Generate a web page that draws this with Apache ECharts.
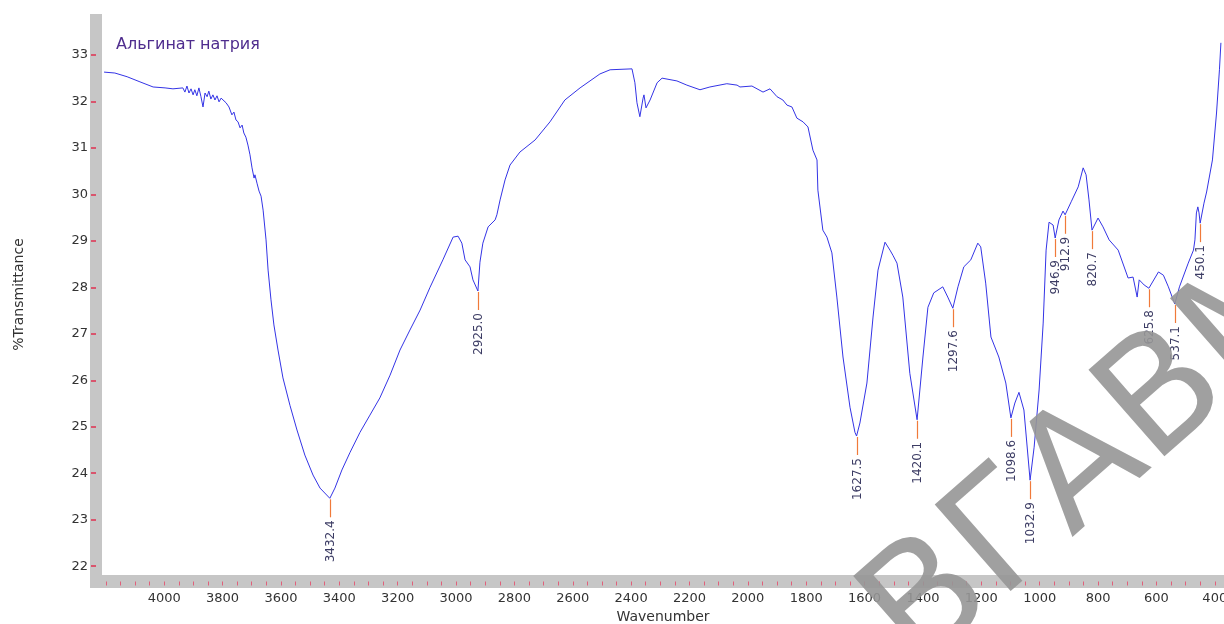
<!DOCTYPE html>
<html>
<head>
<meta charset="utf-8">
<script src="https://cdn.jsdelivr.net/npm/echarts@6/dist/echarts.min.js"></script>
<style>
html,body{margin:0;padding:0;background:#fff;}
#chart{width:1224px;height:624px;}
</style>
</head>
<body>
<div id="chart"></div>
<script>
// ---- data ----
const chartTitle = "Альгинат натрия";
const xAxisName = "Wavenumber";
const yAxisName = "%Transmittance";
const xTickLabels = [4000, 3800, 3600, 3400, 3200, 3000, 2800, 2600, 2400, 2200, 2000, 1800, 1600, 1400, 1200, 1000, 800, 600, 400];
const yTickLabels = [22, 23, 24, 25, 26, 27, 28, 29, 30, 31, 32, 33];

const wavenumber = [4206,4169,4127,4083,4038,3997,3970,3936,3929,3922,3915,3908,3901,3895,3888,3881,3874,3867,3860,3853,3847,3840,3833,3826,3819,3812,3805,3799,3788,3778,3768,3761,3754,3747,3740,3733,3727,3720,3713,3706,3699,3692,3689,3682,3675,3668,3661,3651,3644,3634,3624,3610,3593,3569,3545,3518,3490,3466,3432.4,3415,3391,3363,3329,3295,3261,3226,3192,3158,3123,3089,3045,3010,2993,2980,2969,2952,2942,2925,2918,2908,2890,2866,2860,2849,2832,2815,2781,2729,2678,2627,2575,2507,2472,2397,2387,2380,2370,2359,2356,2349,2335,2311,2294,2243,2209,2164,2130,2072,2037,2027,1986,1948,1924,1900,1880,1866,1849,1832,1811,1794,1777,1763,1760,1743,1729,1712,1695,1674,1650,1633,1627.5,1616,1592,1571,1554,1530,1513,1503,1489,1469,1445,1420.1,1400,1383,1363,1332,1315,1297.6,1280,1260,1236,1212,1202,1185,1167,1140,1116,1098.6,1085,1071,1054,1032.9,1019,1002,988,978,968,954,946.9,934,920,912.9,892,868,851,841,831,820.7,800,783,762,731,697,680,666,659,642,625.8,593,576,559,537.1,521,491,473,468,463,458,454,450.1,437,428,408,394,384,379];
const transmittance = [32.63,32.61,32.53,32.42,32.31,32.29,32.27,32.29,32.20,32.33,32.18,32.27,32.14,32.25,32.12,32.29,32.10,31.88,32.18,32.10,32.22,32.05,32.14,32.03,32.12,31.99,32.07,32.03,31.97,31.88,31.71,31.77,31.60,31.56,31.43,31.49,31.32,31.23,31.06,30.85,30.57,30.35,30.42,30.24,30.07,29.96,29.66,29.02,28.37,27.73,27.19,26.65,26.05,25.46,24.93,24.39,23.96,23.68,23.46,23.68,24.07,24.45,24.88,25.25,25.62,26.11,26.65,27.08,27.51,28.00,28.59,29.08,29.10,28.95,28.59,28.44,28.16,27.92,28.54,28.95,29.30,29.45,29.56,29.88,30.31,30.63,30.91,31.17,31.56,32.03,32.29,32.59,32.68,32.70,32.40,31.97,31.67,32.07,32.14,31.86,32.03,32.40,32.50,32.44,32.35,32.25,32.31,32.38,32.35,32.31,32.33,32.20,32.27,32.10,32.03,31.92,31.88,31.64,31.56,31.45,30.95,30.74,30.09,29.23,29.08,28.74,27.79,26.50,25.42,24.88,24.80,25.08,25.94,27.36,28.37,28.97,28.80,28.69,28.52,27.79,26.15,25.15,26.50,27.57,27.88,28.01,27.79,27.55,28.01,28.44,28.59,28.95,28.87,28.09,26.93,26.50,25.94,25.19,25.51,25.74,25.36,23.85,24.56,25.79,27.23,28.80,29.40,29.34,29.06,29.45,29.64,29.56,29.84,30.16,30.57,30.42,29.88,29.23,29.49,29.30,29.02,28.80,28.20,28.22,27.79,28.16,28.05,27.98,28.33,28.26,28.01,27.64,28.01,28.52,28.80,29.02,29.60,29.73,29.60,29.38,29.81,30.05,30.74,31.75,32.68,33.26];

const peakWavenumber = [3432.4, 2925.0, 1627.5, 1420.1, 1297.6, 1098.6, 1032.9, 946.9, 912.9, 820.7, 625.8, 537.1, 450.1];
const peakTransmittance = [23.46, 27.92, 24.80, 25.15, 27.55, 25.19, 23.85, 29.06, 29.56, 29.23, 27.98, 27.64, 29.38];
const peakLabels = ["3432.4", "2925.0", "1627.5", "1420.1", "1297.6", "1098.6", "1032.9", "946.9", "912.9", "820.7", "625.8", "537.1", "450.1"];

const watermarkText = "ВГАВМ";

// ---- build ----
const lineData = wavenumber.map((w, i) => [w, transmittance[i]]);
const peakData = peakWavenumber.map((w, i) => [w, peakTransmittance[i]]);
const xMinorTicks = [];
for (let t = 400; t <= 4200; t += 50) xMinorTicks.push(t);

const FONT = '"DejaVu Sans", sans-serif';
const chart = echarts.init(document.getElementById('chart'), null, {renderer: 'canvas'});

chart.setOption({
  animation: false,
  backgroundColor: '#ffffff',
  title: {
    text: chartTitle,
    left: 116,
    top: 37,
    padding: 0,
    textStyle: {color: '#4f2d8e', fontSize: 16, fontWeight: 'normal', fontFamily: FONT}
  },
  grid: {left: 102, right: 0, top: 14, bottom: 49, containLabel: false, outerBoundsMode: 'none'},
  xAxis: {
    type: 'value',
    inverse: true,
    min: 368.4,
    max: 4213.1,
    offset: 6.5,
    name: xAxisName,
    nameLocation: 'middle',
    nameGap: 26,
    nameTextStyle: {color: '#333', fontSize: 14, fontFamily: FONT},
    axisLine: {show: true, lineStyle: {color: '#c6c6c6', width: 13, cap: 'butt'}},
    axisTick: {show: true, inside: false, length: 4, customValues: xMinorTicks, lineStyle: {color: '#e0607a', width: 1}},
    axisLabel: {customValues: xTickLabels, color: '#333', fontSize: 13, fontFamily: FONT, margin: 11, formatter: v => String(v), hideOverlap: false},
    splitLine: {show: false}
  },
  yAxis: {
    type: 'value',
    min: 21.81,
    max: 33.88,
    offset: 6,
    name: yAxisName,
    nameLocation: 'middle',
    nameGap: 70,
    nameTextStyle: {color: '#333', fontSize: 14, fontFamily: FONT},
    axisLine: {show: true, lineStyle: {color: '#c6c6c6', width: 12, cap: 'butt'}},
    axisTick: {show: true, inside: false, length: 5, customValues: yTickLabels, lineStyle: {color: '#e03050', width: 1.5}},
    axisLabel: {customValues: yTickLabels, color: '#333', fontSize: 13, fontFamily: FONT, margin: 8, formatter: v => String(v)},
    splitLine: {show: false}
  },
  graphic: [
    {type: 'rect', left: 90, top: 575, shape: {width: 12, height: 13}, style: {fill: '#c6c6c6'}, z: 5},
    {
      type: 'text', x: 1100, y: 458, rotation: 0.72, z: 100,
      style: {text: watermarkText, font: 'normal 158px ' + FONT, fill: 'rgba(150,150,150,0.9)', align: 'center', verticalAlign: 'middle'}
    }
  ],
  series: [
    {
      type: 'line',
      data: lineData,
      showSymbol: false,
      symbol: 'none',
      lineStyle: {color: '#3434e6', width: 1},
      z: 3
    },
    {
      type: 'custom',
      data: peakData,
      encode: {x: 0, y: 1},
      z: 4,
      renderItem: function (params, api) {
        const p = api.coord([api.value(0), api.value(1)]);
        const x = Math.round(p[0]) + 0.5;
        return {
          type: 'group',
          children: [
            {type: 'line', shape: {x1: x, y1: p[1] + 1, x2: x, y2: p[1] + 19}, style: {stroke: '#f07a3a', lineWidth: 1.2}},
            {
              type: 'text', x: x, y: p[1] + 22, rotation: Math.PI / 2,
              style: {text: peakLabels[params.dataIndex], font: '12px ' + FONT, fill: '#3c3c64', align: 'right', verticalAlign: 'middle'}
            }
          ]
        };
      }
    }
  ]
});
</script>
</body>
</html>
